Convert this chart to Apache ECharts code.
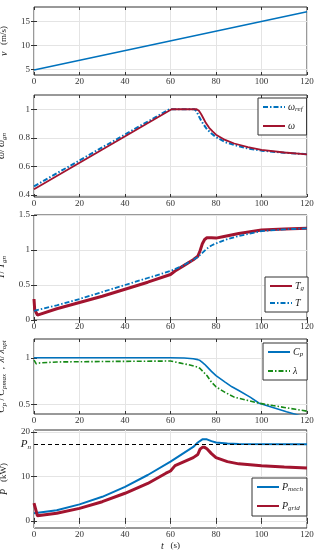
<!DOCTYPE html>
<html><head><meta charset="utf-8">
<script src="https://cdn.jsdelivr.net/npm/echarts@6/dist/echarts.min.js"></script>
<style>html,body{margin:0;padding:0;background:#fff}#c{width:316px;height:550px}</style>
</head><body><div id="c"></div>
<script>
// ---- data ----
const xTicks = [0, 20, 40, 60, 80, 100, 120];
// panel 1: wind speed
const vT = [0, 120];
const vV = [4.85, 17];
// panel 2: rotor speed
const wrefT = [0, 59.5, 70.5, 71.5, 72.5, 73.5, 74.5, 76, 78, 80, 84, 88, 94, 100, 110, 120];
const wrefV = [0.46, 1.0, 1.0, 0.985, 0.95, 0.92, 0.895, 0.86, 0.83, 0.805, 0.77, 0.75, 0.725, 0.71, 0.695, 0.685];
const wT = [0, 60.5, 71.5, 72.5, 73.5, 74.5, 75.5, 77, 78.5, 80, 84, 88, 94, 100, 110, 120];
const wV = [0.44, 1.0, 1.0, 0.99, 0.965, 0.935, 0.905, 0.87, 0.845, 0.822, 0.785, 0.76, 0.735, 0.715, 0.697, 0.684];
// panel 3: torque
const tgT = [0, 0.3, 1.5, 10, 20, 30, 40, 50, 60, 62, 66, 70, 72, 73, 74, 75, 76, 78, 80, 83, 90, 100, 110, 120];
const tgV = [0.3, 0.15, 0.07, 0.16, 0.25, 0.34, 0.44, 0.54, 0.65, 0.7, 0.78, 0.86, 0.91, 0.99, 1.09, 1.15, 1.175, 1.175, 1.17, 1.19, 1.235, 1.285, 1.3, 1.31];
const trT = [0, 10, 20, 30, 40, 50, 60, 65, 70, 72, 74, 76, 78, 80, 85, 90, 100, 110, 120];
const trV = [0.13, 0.21, 0.3, 0.4, 0.5, 0.6, 0.7, 0.77, 0.86, 0.9, 0.96, 1.02, 1.065, 1.095, 1.155, 1.2, 1.27, 1.295, 1.31];
// panel 4: Cp and lambda
const cpT = [0, 60, 66, 70, 72, 73, 74, 75, 76, 78, 80, 84, 87, 90, 95, 99, 105, 111, 120];
const cpV = [1.0, 1.0, 0.997, 0.99, 0.98, 0.97, 0.95, 0.93, 0.905, 0.855, 0.81, 0.74, 0.69, 0.65, 0.58, 0.515, 0.47, 0.425, 0.36];
const lamT = [0, 1, 2.5, 10, 30, 60, 64, 68, 72, 73, 74, 75, 76, 78, 80, 84, 88, 94, 99, 105, 110, 115, 120];
const lamV = [0.975, 0.935, 0.945, 0.955, 0.96, 0.965, 0.945, 0.925, 0.9, 0.885, 0.86, 0.835, 0.81, 0.74, 0.69, 0.63, 0.58, 0.545, 0.515, 0.49, 0.47, 0.45, 0.43];
// panel 5: power
const pmT = [0, 10, 20, 30, 40, 50, 60, 70, 72, 74, 76, 78, 80, 85, 90, 120];
const pmV = [1.7, 2.4, 3.7, 5.4, 7.65, 10.3, 13.3, 16.6, 17.6, 18.3, 18.3, 17.9, 17.6, 17.35, 17.25, 17.2];
const pgT = [0, 1.5, 10, 20, 30, 40, 50, 58, 60, 62, 66, 70, 72, 73, 74, 75, 76, 78, 80, 85, 90, 100, 110, 120];
const pgV = [4, 1.15, 1.7, 2.8, 4.3, 6.2, 8.4, 10.7, 11.2, 12.4, 13.3, 14.2, 14.9, 16.1, 16.5, 16.5, 16.2, 15.1, 14.2, 13.3, 12.8, 12.4, 12.1, 11.85];
const Pn = 17.2;
// axes
const yRanges = [[3.8, 18], [0.385, 1.1], [0, 1.5], [0.4, 1.2], [-1.6, 20.4]];
const yTicks = [[5, 10, 15], [0.4, 0.6, 0.8, 1], [0, 0.5, 1, 1.5], [0.5, 1], [0, 10, 20]];

// ---- styling ----
const FONT = '"Liberation Serif","DejaVu Serif",serif';
const BLUE = '#0072BD', RED = '#A2142F', GREEN = '#168a16';
const DASHDOT = [5, 2, 1.5, 2];
const grids = [
  {top: 7, height: 68}, {top: 95, height: 102}, {top: 215, height: 105},
  {top: 339, height: 75}, {top: 430, height: 98}
];
const rich = {
  i: {fontFamily: FONT, fontStyle: 'italic', fontSize: 10, color: '#222'},
  n: {fontFamily: FONT, fontSize: 9, color: '#222'},
  s: {fontFamily: FONT, fontStyle: 'italic', fontSize: 7, color: '#222', padding: [5, 0, 0, 0]}
};
const yNames = [
  '{i|v}  {n|(m/s)}',
  '{i|ω}{n|/ }{i|ω}{s|gn}',
  '{i|T}{n|/ }{i|T}{s|gn}',
  '{i|C}{s|p}{n| / }{i|C}{s|pmax}{n|  ,  }{i|λ}{n|/ }{i|λ}{s|opt}',
  '{i|P}  {n|(kW)}'
];
const pair = (t, v) => t.map((x, k) => [x, v[k]]);

const xAxis = [], yAxis = [];
grids.forEach((g, i) => {
  xAxis.push({
    type: 'value', gridIndex: i, min: 0, max: 120, interval: 20,
    axisLine: {show: false},
    axisTick: {inside: true, length: 3, lineStyle: {color: '#333'}},
    axisLabel: {fontFamily: FONT, fontSize: 9, color: '#333', margin: 2},
    splitLine: {show: true, lineStyle: {color: '#e4e4e4', width: 1}},
    name: i === 4 ? '{i|t}  {n|(s)}' : '',
    nameLocation: 'middle', nameGap: 12,
    nameTextStyle: {rich: rich}
  });
  xAxis.push({
    type: 'value', gridIndex: i, position: 'top', min: 0, max: 120, interval: 20,
    axisLine: {show: false}, axisLabel: {show: false}, splitLine: {show: false},
    axisTick: {inside: true, length: 3, lineStyle: {color: '#333'}}
  });
  yAxis.push({
    type: 'value', gridIndex: i, min: yRanges[i][0], max: yRanges[i][1],
    axisLine: {show: false},
    axisTick: {inside: true, length: 3, lineStyle: {color: '#333'}, customValues: yTicks[i]},
    axisLabel: {fontFamily: FONT, fontSize: 9, color: '#333', margin: 4, customValues: yTicks[i]},
    splitLine: {show: true, lineStyle: {color: '#e4e4e4', width: 1}},
    name: yNames[i], nameLocation: 'middle', nameRotate: 90, nameGap: 17,
    nameTextStyle: {rich: rich}
  });
  yAxis.push({
    type: 'value', gridIndex: i, position: 'right', min: yRanges[i][0], max: yRanges[i][1],
    axisLine: {show: false}, axisLabel: {show: false, customValues: yTicks[i]}, splitLine: {show: false},
    axisTick: {inside: true, length: 3, lineStyle: {color: '#333'}, customValues: yTicks[i]}
  });
});

function line(name, i, t, v, color, width, type, extra) {
  return Object.assign({
    name: name, type: 'line', xAxisIndex: 2 * i, yAxisIndex: 2 * i,
    data: pair(t, v), showSymbol: false, symbol: 'none', silent: true,
    lineStyle: {color: color, width: width, type: type || 'solid'},
    itemStyle: {color: color}
  }, extra || {});
}

const series = [
  line('v', 0, vT, vV, BLUE, 1.6),
  line('wref', 1, wrefT, wrefV, BLUE, 2, DASHDOT),
  line('w', 1, wT, wV, RED, 1.8),
  line('Tg', 2, tgT, tgV, RED, 3),
  line('T', 2, trT, trV, BLUE, 1.8, DASHDOT),
  line('Cp', 3, cpT, cpV, BLUE, 1.6),
  line('lam', 3, lamT, lamV, GREEN, 1.6, DASHDOT),
  line('Pmech', 4, pmT, pmV, BLUE, 2, 'solid', {
    markLine: {
      silent: true, symbol: 'none', animation: false,
      lineStyle: {color: '#000', type: [4, 3], width: 1},
      label: {show: true, position: 'start', distance: 3, formatter: '{i|P}{s|n}',
        rich: {i: {fontFamily: FONT, fontStyle: 'italic', fontSize: 11, color: '#222'},
               s: {fontFamily: FONT, fontStyle: 'italic', fontSize: 7, color: '#222', padding: [5, 0, 0, 0]}}},
      data: [{yAxis: Pn}]
    }
  }),
  line('Pgrid', 4, pgT, pgV, RED, 3)
];

const legendLabels = {
  wref: '{i|ω}{s|ref}', w: '{i|ω}', Tg: '{i|T}{s|g}', T: '{i|T}',
  Cp: '{i|C}{s|p}', lam: '{i|λ}', Pmech: '{i|P}{s|mech}', Pgrid: '{i|P}{s|grid}'
};
function legend(data, left, top, gap) {
  return {
    data: data, orient: 'vertical', left: left, top: top,
    padding: [4, 4, 4, 4], itemGap: gap, itemWidth: 22, itemHeight: 8,
    backgroundColor: '#fff', borderColor: '#333', borderWidth: 1, borderRadius: 0,
    selectedMode: false,
    itemStyle: {opacity: 0, borderWidth: 0},
    formatter: n => legendLabels[n],
    textStyle: {rich: rich, padding: [0, 0, 0, -2]}
  };
}

const option = {
  animation: false,
  backgroundColor: '#fff',
  grid: grids.map(g => ({left: 34, right: 9, top: g.top, height: g.height, show: true,
    borderColor: '#333', borderWidth: 1, backgroundColor: 'transparent', outerBoundsMode: 'none'})),
  xAxis: xAxis, yAxis: yAxis,
  legend: [
    legend(['wref', 'w'], 258, 98, 8),
    legend(['Tg', 'T'], 265, 277, 6),
    legend(['Cp', 'lam'], 263, 343, 8),
    legend(['Pmech', 'Pgrid'], 252, 478, 8)
  ],
  series: series
};
const chart = echarts.init(document.getElementById('c'), null, {renderer: 'canvas'});
chart.setOption(option);
</script></body></html>
